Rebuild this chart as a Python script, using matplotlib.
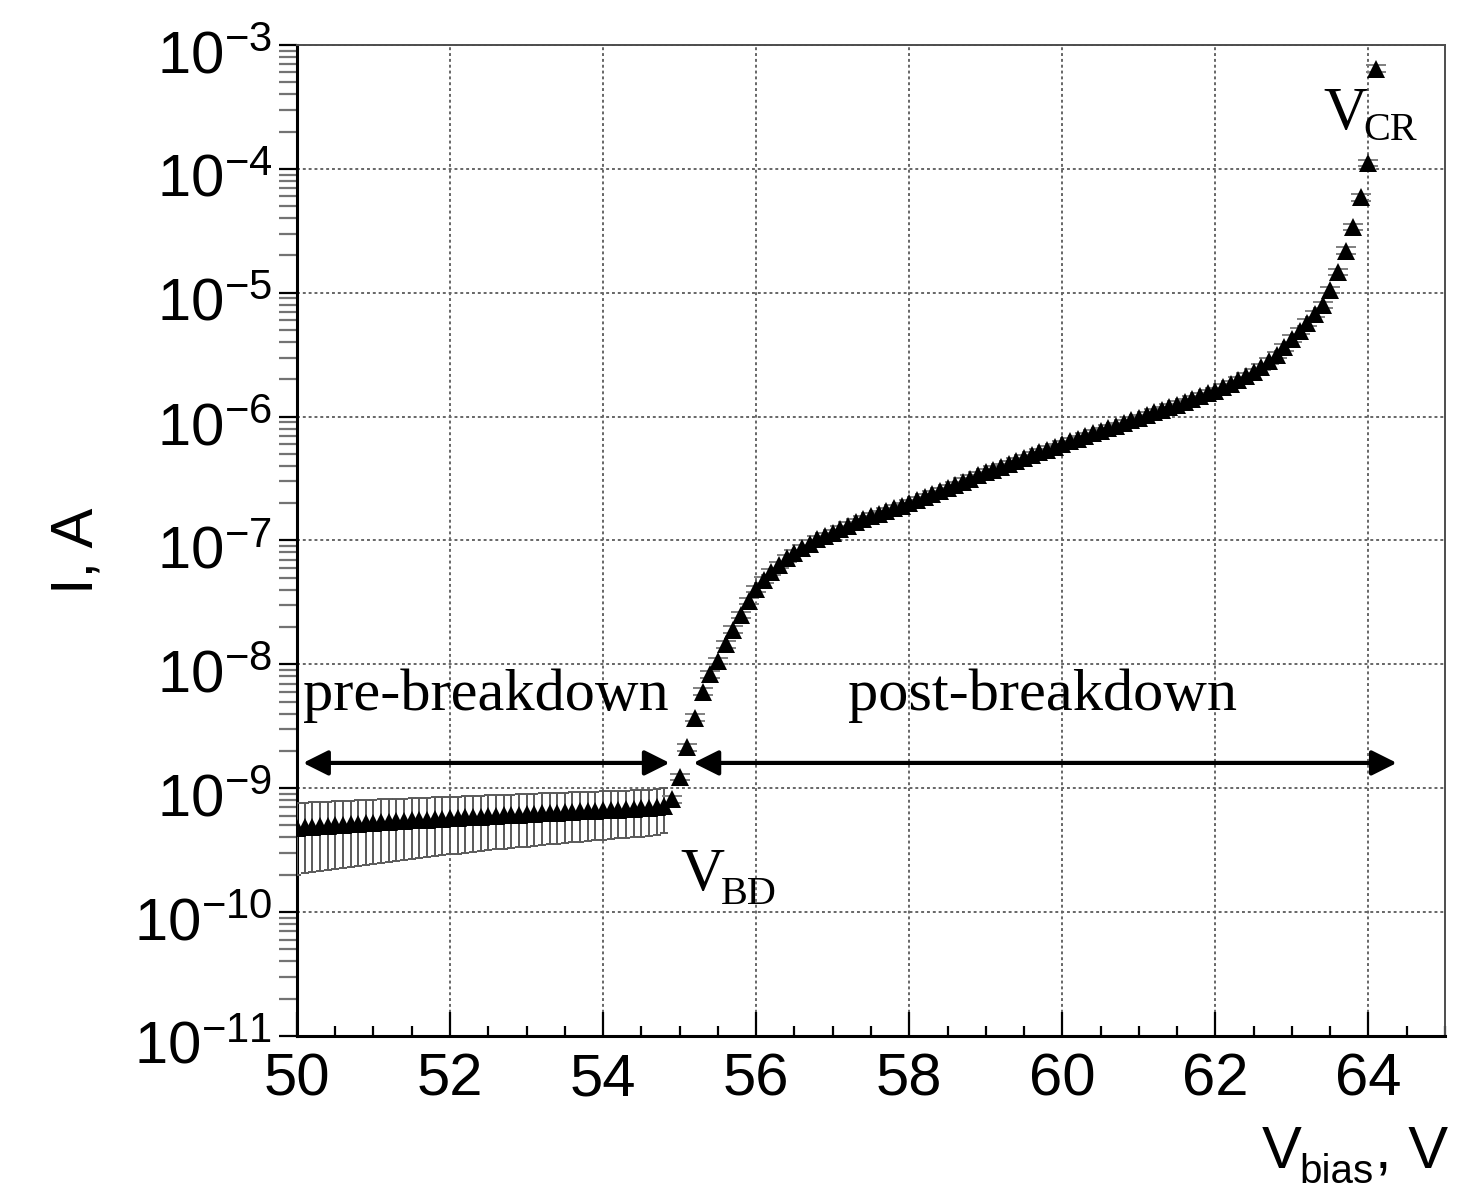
import numpy as np
import matplotlib
matplotlib.use("Agg")
import matplotlib.pyplot as plt
from matplotlib.ticker import LogLocator, MultipleLocator, NullFormatter, LogFormatterSciNotation
from matplotlib.transforms import ScaledTranslation

plt.rcParams["font.family"] = "Liberation Sans"
plt.rcParams["mathtext.fontset"] = "custom"
plt.rcParams["mathtext.rm"] = "Liberation Sans"
plt.rcParams["mathtext.default"] = "regular"

# DATA: bias sweep 50.0 .. 64.1 V in 0.1 V steps
bias_start = 50.0
bias_step = 0.1

# current below breakdown (50.0 .. 54.8 V), A
current_pre = [
    4.80e-10, 4.85e-10, 4.89e-10, 4.94e-10, 4.98e-10, 5.03e-10, 5.08e-10, 5.12e-10, 5.17e-10, 5.21e-10,
    5.26e-10, 5.31e-10, 5.35e-10, 5.40e-10, 5.44e-10, 5.49e-10, 5.54e-10, 5.58e-10, 5.63e-10, 5.67e-10,
    5.72e-10, 5.77e-10, 5.81e-10, 5.86e-10, 5.90e-10, 5.95e-10, 6.00e-10, 6.04e-10, 6.09e-10, 6.13e-10,
    6.18e-10, 6.23e-10, 6.27e-10, 6.32e-10, 6.36e-10, 6.41e-10, 6.46e-10, 6.50e-10, 6.55e-10, 6.59e-10,
    6.64e-10, 6.69e-10, 6.73e-10, 6.78e-10, 6.82e-10, 6.87e-10, 6.92e-10, 7.00e-10, 7.15e-10,
]
# current from breakdown on (54.9 .. 64.1 V), A
current_post = [
    8.13e-10, 1.23e-9, 2.14e-9, 3.72e-9, 6.03e-9, 8.32e-9, 1.07e-8, 1.45e-8, 1.91e-8, 2.51e-8,
    3.24e-8, 4.07e-8, 4.79e-8, 5.56e-8, 6.38e-8, 7.16e-8, 7.94e-8, 8.71e-8, 9.44e-8, 1.02e-7,
    1.08e-7, 1.15e-7, 1.23e-7, 1.32e-7, 1.40e-7, 1.48e-7, 1.57e-7, 1.64e-7, 1.74e-7, 1.82e-7,
    1.91e-7, 2.00e-7, 2.11e-7, 2.24e-7, 2.37e-7, 2.51e-7, 2.66e-7, 2.82e-7, 2.99e-7, 3.16e-7,
    3.35e-7, 3.55e-7, 3.74e-7, 3.94e-7, 4.16e-7, 4.39e-7, 4.62e-7, 4.88e-7, 5.14e-7, 5.42e-7,
    5.71e-7, 6.03e-7, 6.32e-7, 6.64e-7, 6.97e-7, 7.31e-7, 7.67e-7, 8.05e-7, 8.45e-7, 8.87e-7,
    9.31e-7, 9.77e-7, 1.03e-6, 1.08e-6, 1.13e-6, 1.19e-6, 1.25e-6, 1.32e-6, 1.39e-6, 1.46e-6,
    1.54e-6, 1.62e-6, 1.72e-6, 1.83e-6, 1.96e-6, 2.11e-6, 2.30e-6, 2.53e-6, 2.81e-6, 3.16e-6,
    3.63e-6, 4.27e-6, 4.90e-6, 5.75e-6, 6.76e-6, 7.94e-6, 1.05e-5, 1.48e-5, 2.19e-5, 3.39e-5,
    5.89e-5, 1.12e-4, 6.46e-4,
]
err_pre = 2.8e-10      # absolute error below breakdown, A
err_post_rel = 0.06    # relative error above breakdown

x_ticks = [50, 52, 54, 56, 58, 60, 62, 64]
y_ticks = [1e-11, 1e-10, 1e-9, 1e-8, 1e-7, 1e-6, 1e-5, 1e-4, 1e-3]

n_pre = len(current_pre)
n_all = n_pre + len(current_post)
bias = np.round(bias_start + bias_step * np.arange(n_all), 1)
v_pre = bias[:n_pre]
v_post = bias[n_pre:]
i_pre = np.array(current_pre)
i_post = np.array(current_post)

fig = plt.figure(figsize=(14.81, 11.91), dpi=100)
ax = fig.add_axes([0.2005, 0.1302, 0.7752, 0.832])

ax.set_yscale("log")
ax.set_xlim(50, 65)
ax.set_ylim(1e-11, 1e-3)

# error bars + markers
ax.errorbar(v_pre, i_pre, yerr=err_pre, fmt="none", ecolor="0.35",
            elinewidth=1.4, capsize=2.8, capthick=1.4, zorder=3)
ax.errorbar(v_post, i_post, yerr=err_post_rel * i_post, fmt="none", ecolor="0.5",
            elinewidth=1.2, capsize=7, capthick=1.4, zorder=3)
ax.plot(bias, np.concatenate([i_pre, i_post]), "^", color="black", ms=13,
        markeredgewidth=0, zorder=4)

# ticks
ax.set_xticks(x_ticks)
ax.xaxis.set_minor_locator(MultipleLocator(0.5))
ax.set_yticks(y_ticks)
ax.yaxis.set_major_formatter(LogFormatterSciNotation())
ax.yaxis.set_minor_locator(LogLocator(base=10, subs=np.arange(2, 10), numticks=100))
ax.yaxis.set_minor_formatter(NullFormatter())
ax.tick_params(axis="x", which="major", direction="in", length=17, width=1.6,
               labelsize=43, pad=12)
ax.tick_params(axis="x", which="minor", direction="in", length=7, width=1.6)
ax.tick_params(axis="y", which="major", direction="out", length=13, width=1.6,
               labelsize=43, pad=5)
ax.tick_params(axis="y", which="minor", direction="out", length=13, width=1.6,
               color="0.45")

ax.grid(True, which="major", linestyle=(0, (1.5, 1.5)), color="0.4", linewidth=1.4)

for side in ["left", "bottom"]:
    ax.spines[side].set_linewidth(2.2)
for side in ["top", "right"]:
    ax.spines[side].set_linewidth(1.4)
    ax.spines[side].set_color("0.3")

# y tick labels sit a little below their ticks
fig.canvas.draw()
shift = ScaledTranslation(0, -0.07, fig.dpi_scale_trans)
for lab in ax.get_yticklabels():
    lab.set_transform(lab.get_transform() + shift)

# axis titles
ax.set_ylabel("I, A", fontsize=43)
ax.yaxis.set_label_coords(-0.168, 0.49)
xl = (0.8406, -0.1332)
ax.text(*xl, "V", transform=ax.transAxes, ha="left", va="baseline", fontsize=43)
ax.annotate("bias", xy=xl, xycoords="axes fraction", xytext=(27, -11),
            textcoords="offset points", fontsize=29, va="baseline")
ax.annotate(", V", xy=xl, xycoords="axes fraction", xytext=(81, 0),
            textcoords="offset points", fontsize=43, va="baseline")

# annotations
serif = "Liberation Serif"
ax.text(50.08, 4.3e-9, "pre-breakdown", family=serif, fontsize=43.5, va="baseline")
ax.text(57.2, 4.3e-9, "post-breakdown", family=serif, fontsize=43.5, va="baseline")

arrow = dict(arrowstyle="<|-|>", color="black", lw=3, mutation_scale=38,
             shrinkA=0, shrinkB=0)
ax.annotate("", xy=(50.08, 1.6e-9), xytext=(54.87, 1.6e-9), arrowprops=arrow)
ax.annotate("", xy=(55.18, 1.6e-9), xytext=(64.37, 1.6e-9), arrowprops=arrow)

ax.text(55.01, 1.5e-10, "V", family=serif, fontsize=44, va="baseline")
ax.annotate("BD", xy=(55.01, 1.5e-10), xytext=(29, -10), textcoords="offset points",
            family=serif, fontsize=29, va="baseline")
ax.text(63.41, 2.1e-4, "V", family=serif, fontsize=44, va="baseline")
ax.annotate("CR", xy=(63.41, 2.1e-4), xytext=(29, -8), textcoords="offset points",
            family=serif, fontsize=29, va="baseline")

fig.savefig("out.png", dpi=100)
